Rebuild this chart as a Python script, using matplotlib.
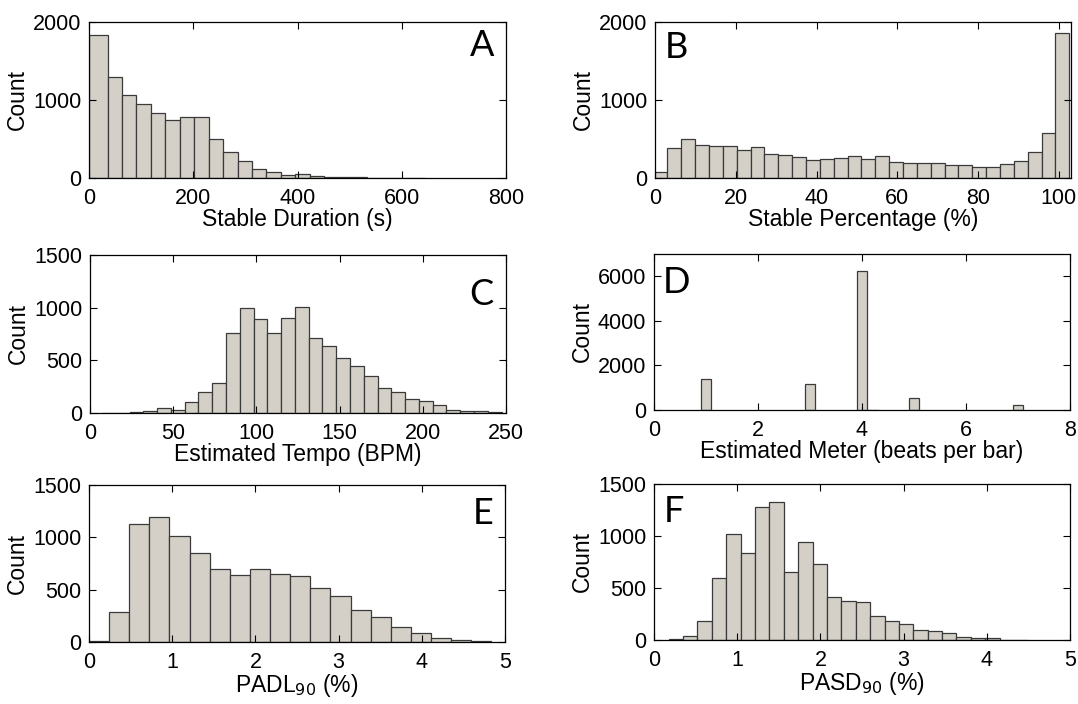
import numpy as np
import matplotlib
matplotlib.use("Agg")
import matplotlib.pyplot as plt

plt.rcParams['font.family'] = ['Liberation Sans', 'DejaVu Sans']

# A: stable duration (s) - first bar is wider, starts at 0
A_first_edge = 35.6
A_width = 27.7
A_counts = [1838, 1291, 1060, 944, 838, 744, 782, 778, 500, 329, 222, 120, 77,
            38, 47, 21, 8, 12, 8, 5, 2, 1, 2]

# B: stable percentage (%)
B_start = -0.34
B_width = 3.43
B_counts = [73, 385, 496, 419, 406, 410, 363, 393, 312, 295, 274, 235, 248, 252,
            278, 248, 278, 209, 197, 197, 192, 162, 162, 145, 145, 179, 222, 333,
            577, 1859]

# C: estimated tempo (BPM)
C_start = 7.2
C_width = 8.28
C_counts = [1, 3, 6, 19, 51, 32, 108, 200, 289, 758, 996, 888, 764, 901, 1002,
            714, 634, 523, 447, 355, 241, 197, 133, 111, 73, 32, 19, 16, 13]

# D: estimated meter (beats per bar)
D_centers = [1, 3, 4, 4.2, 5, 7]
D_width = 0.2
D_counts = [1407, 1183, 6257, 15, 524, 240]

# E: PADL90 (%)
E_start = 0.0
E_width = 0.2418
E_counts = [6, 287, 1123, 1190, 1012, 849, 699, 642, 696, 651, 626, 517, 444,
            310, 236, 144, 89, 38, 19, 10]

# F: PASD90 (%)
F_start = 0.177
F_width = 0.1729
F_counts = [6, 42, 182, 592, 1020, 835, 1276, 1327, 656, 943, 726, 413, 371, 365,
            230, 185, 150, 93, 83, 67, 32, 22, 16, 1, 4]

FACE = '#d4d0c8'
EDGE = '#3a3a3a'
W, H = 1078, 704

fig = plt.figure(figsize=(W / 100, H / 100), dpi=100)


def make_axes(left, top, right, bottom):
    return fig.add_axes([left / W, 1 - bottom / H, (right - left) / W, (bottom - top) / H])


def style(ax, xlim, xticks, ylim, yticks, xlabel):
    ax.set_xlim(*xlim)
    ax.set_ylim(*ylim)
    ax.set_xticks(xticks)
    ax.set_yticks(yticks)
    ax.tick_params(direction='in', top=True, right=True, length=5, width=0.8,
                   labelsize=15.5)
    ax.tick_params(axis='x', pad=7.5)
    ax.tick_params(axis='y', pad=5.5)
    for s in ax.spines.values():
        s.set_linewidth(0.9)
    ax.set_xlabel(xlabel, fontsize=16.5, labelpad=-1)
    ax.set_ylabel('Count', fontsize=16.5, labelpad=3)


def hist_bars(ax, edges, counts):
    edges = np.asarray(edges)
    ax.bar(edges[:-1], counts, width=np.diff(edges), align='edge',
           color=FACE, edgecolor=EDGE, linewidth=0.9)


def letter(txt, x, y):
    fig.text(x / W, 1 - y / H, txt, fontsize=26, family=['Lato', 'DejaVu Sans'],
             ha='center', va='center')


# A
ax = make_axes(89, 22, 506, 178)
edges = np.r_[0, A_first_edge + A_width * np.arange(len(A_counts))]
hist_bars(ax, edges, A_counts)
style(ax, (0, 800), [0, 200, 400, 600, 800], (0, 2000), [0, 1000, 2000],
      'Stable Duration (s)')
letter('A', 482, 46)

# B
ax = make_axes(655, 22, 1071, 178)
edges = B_start + B_width * np.arange(len(B_counts) + 1)
hist_bars(ax, edges, B_counts)
style(ax, (0, 103), [0, 20, 40, 60, 80, 100], (0, 2000), [0, 1000, 2000],
      'Stable Percentage (%)')
letter('B', 676, 48)

# C
ax = make_axes(90, 255, 506, 413)
edges = C_start + C_width * np.arange(len(C_counts) + 1)
hist_bars(ax, edges, C_counts)
style(ax, (0, 250), [0, 50, 100, 150, 200, 250], (0, 1500), [0, 500, 1000, 1500],
      'Estimated Tempo (BPM)')
letter('C', 481, 295)

# D
ax = make_axes(654, 254, 1070, 410)
ax.bar(D_centers, D_counts, width=D_width, color=FACE, edgecolor=EDGE, linewidth=0.9)
style(ax, (0, 8), [0, 2, 4, 6, 8], (0, 7000), [0, 2000, 4000, 6000],
      'Estimated Meter (beats per bar)')
letter('D', 677, 282)

# E
ax = make_axes(89, 485, 505, 642)
edges = E_start + E_width * np.arange(len(E_counts) + 1)
hist_bars(ax, edges, E_counts)
style(ax, (0, 5), [0, 1, 2, 3, 4, 5], (0, 1500), [0, 500, 1000, 1500],
      r'PADL$_{90}$ (%)')
letter('E', 483, 513)

# F
ax = make_axes(654, 484, 1070, 640)
edges = F_start + F_width * np.arange(len(F_counts) + 1)
hist_bars(ax, edges, F_counts)
style(ax, (0, 5), [0, 1, 2, 3, 4, 5], (0, 1500), [0, 500, 1000, 1500],
      r'PASD$_{90}$ (%)')
letter('F', 674, 512)

fig.savefig('out.png', dpi=100)
